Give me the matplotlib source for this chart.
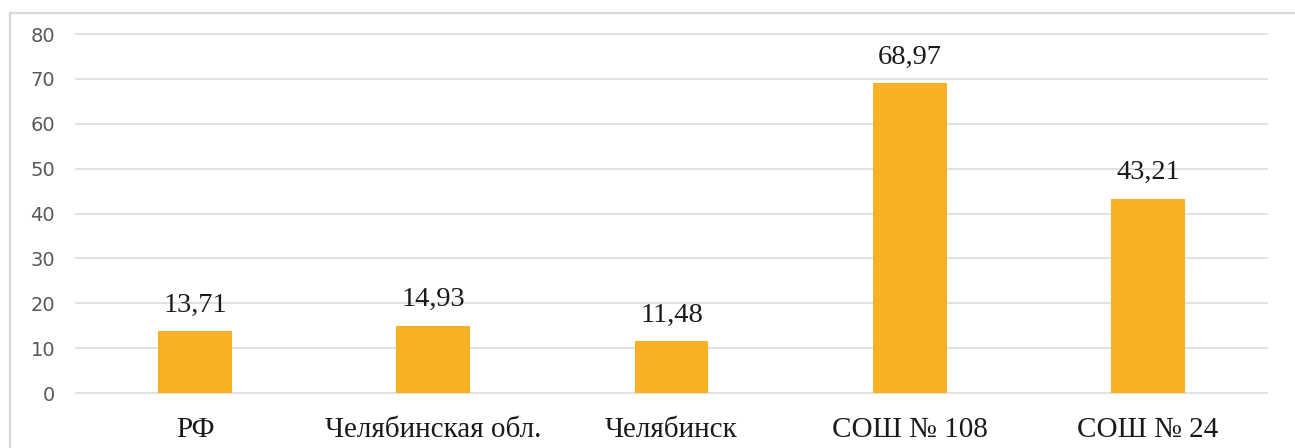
import matplotlib.pyplot as plt
from matplotlib.patches import Rectangle

categories = ["РФ", "Челябинская обл.", "Челябинск", "СОШ № 108", "СОШ № 24"]
values = [13.71, 14.93, 11.48, 68.97, 43.21]
y_ticks = [0, 10, 20, 30, 40, 50, 60, 70, 80]

W, H = 1295, 448
fig = plt.figure(figsize=(W / 100, H / 100), dpi=100)

# light frame around the chart (right and bottom edges fall outside the image)
fig.patches.append(Rectangle((10 / W, -0.2), 2.0, (H - 13) / H + 0.2,
                             transform=fig.transFigure, fill=False,
                             edgecolor="#D9D9D9", linewidth=1.6))

ax = fig.add_axes([76 / W, 55 / H, (1267 - 76) / W, 359 / H])
x = range(len(categories))
ax.bar(x, values, width=0.31, color="#F6B224", zorder=2)

for xi, v in zip(x, values):
    ax.annotate(f"{v:.2f}".replace(".", ","), (xi, v), xytext=(0, 10),
                textcoords="offset points", ha="center", va="bottom",
                fontsize=20.5, family="Liberation Serif", color="#1a1a1a")

ax.set_xlim(-0.5, len(categories) - 0.5)
ax.set_ylim(0, 80)
ax.set_yticks(y_ticks)
ax.set_xticks(list(x))
ax.set_xticklabels(categories, family="Liberation Serif", fontsize=21, color="#1a1a1a")
ax.tick_params(axis="x", length=0, pad=17)
ax.tick_params(axis="y", length=0, pad=15, labelsize=14, labelcolor="#595959")
ax.grid(axis="y", color="#D9D9D9", linewidth=1.1, zorder=0)
for line in ax.get_ygridlines():
    line.set_clip_on(False)
for s in ax.spines.values():
    s.set_visible(False)

fig.savefig("out.png", dpi=100)
